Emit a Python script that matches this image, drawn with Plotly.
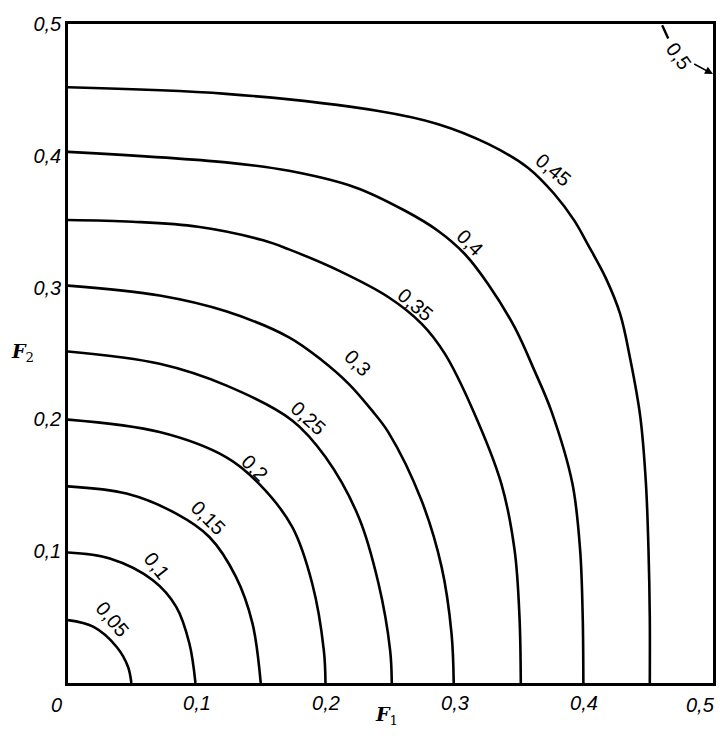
import plotly.graph_objects as go

# contour levels (curve labels)
levels = ["0,05", "0,1", "0,15", "0,2", "0,25", "0,3", "0,35", "0,4", "0,45"]

# curves: F1 (x) and F2 (y) for each level
f1_005 = [0, 0.0195, 0.0376, 0.0465, 0.0491]
f2_005 = [0.0477, 0.0427, 0.0275, 0.0123, 0]

f1_010 = [0, 0.0324, 0.0658, 0.0839, 0.0941, 0.0988]
f2_010 = [0.099, 0.0945, 0.078, 0.0578, 0.030, 0]

f1_015 = [0, 0.0453, 0.0839, 0.1096, 0.1302, 0.143, 0.1494]
f2_015 = [0.1492, 0.1437, 0.1285, 0.1108, 0.0805, 0.0452, 0]

f1_020 = [0, 0.071, 0.1225, 0.148, 0.1738, 0.1893, 0.1983, 0.1996]
f2_020 = [0.1998, 0.1904, 0.1714, 0.1513, 0.1184, 0.0755, 0.025, 0]

f1_025 = [0, 0.071, 0.1225, 0.1738, 0.1996, 0.2253, 0.2407, 0.2497, 0.251]
f2_025 = [0.2515, 0.2422, 0.2258, 0.1992, 0.1714, 0.126, 0.0755, 0.025, 0]

f1_030 = [0, 0.071, 0.1225, 0.1713, 0.197, 0.2176, 0.2356, 0.2485, 0.274, 0.2896, 0.2973, 0.299]
f2_030 = [0.3015, 0.294, 0.282, 0.2623, 0.2447, 0.227, 0.2068, 0.190, 0.1386, 0.0881, 0.0376, 0]

f1_035 = [0, 0.05, 0.1008, 0.1513, 0.1713, 0.2099, 0.2485, 0.2742, 0.2922, 0.314, 0.3359, 0.3462, 0.350, 0.351]
f2_035 = [0.3513, 0.350, 0.3462, 0.3359, 0.329, 0.3129, 0.2927, 0.2725, 0.2497, 0.2068, 0.1513, 0.1008, 0.05, 0]

f1_040 = [0, 0.1225, 0.1713, 0.2228, 0.2613, 0.287, 0.3076, 0.3256, 0.3462, 0.3616, 0.3745, 0.391, 0.397, 0.399, 0.3995]
f2_040 = [0.403, 0.395, 0.3886, 0.376, 0.3583, 0.343, 0.3255, 0.3028, 0.270, 0.237, 0.2068, 0.1513, 0.1008, 0.05, 0]

f1_045 = [0, 0.1225, 0.2407, 0.287, 0.3256, 0.3565, 0.377, 0.3925, 0.4028, 0.417, 0.428, 0.436, 0.4437, 0.448, 0.450, 0.451, 0.451]
f2_045 = [0.452, 0.447, 0.434, 0.424, 0.409, 0.391, 0.371, 0.3508, 0.333, 0.307, 0.280, 0.245, 0.2015, 0.1515, 0.1008, 0.05, 0]

curves_x = [f1_005, f1_010, f1_015, f1_020, f1_025, f1_030, f1_035, f1_040, f1_045]
curves_y = [f2_005, f2_010, f2_015, f2_020, f2_025, f2_030, f2_035, f2_040, f2_045]

# label positions and angles along the curves
label_x = [0.0344, 0.0691, 0.109, 0.145, 0.1862, 0.2248, 0.2697, 0.312, 0.3765]
label_y = [0.0485, 0.0889, 0.1255, 0.1634, 0.2012, 0.243, 0.287, 0.3338, 0.3893]
label_angle = [50, 52, 45, 45, 42, 45, 40, 45, 40]

x_ticks = [0.1, 0.2, 0.3, 0.4]
x_tick_text = ["0,1", "0,2", "0,3", "0,4"]
y_ticks = [0.1, 0.2, 0.3, 0.4, 0.5]
y_tick_text = ["0,1", "0,2", "0,3", "0,4", "0,5"]

label_font = dict(family="Liberation Sans Narrow, Liberation Sans", size=20, color="black")
tick_font = dict(family="Liberation Sans", size=20, color="black")
title_font = dict(family="DejaVu Serif", size=19, color="black")

fig = go.Figure()
for xs, ys in zip(curves_x, curves_y):
    fig.add_trace(go.Scatter(x=xs, y=ys, mode="lines",
                             line=dict(color="black", width=2.6, shape="spline", smoothing=1),
                             hoverinfo="skip", showlegend=False))

for t, x, y, a in zip(levels, label_x, label_y, label_angle):
    fig.add_annotation(x=x, y=y, text=t, showarrow=False, textangle=a, font=label_font)

# 0,5 level = the frame itself, marked with a leader and an arrow
fig.add_annotation(x=0.5, y=0.462, ax=0.4735, ay=0.4758, axref="x", ayref="y",
                   text="0,5", textangle=55, showarrow=True, arrowhead=2,
                   arrowsize=1, arrowwidth=1.6, arrowcolor="black", standoff=0,
                   font=label_font)
fig.add_shape(type="line", x0=0.4606, y0=0.499, x1=0.4653, y1=0.489,
              line=dict(color="black", width=2.4))

# corner labels on the F1 axis (0 sits left of the corner, 0,5 is kept inside the page)
fig.add_annotation(x=-0.018, y=-0.0334, xref="paper", yref="paper", showarrow=False,
                   xanchor="center", yanchor="middle", text="<i>0</i>", font=tick_font)
fig.add_annotation(x=1.006, y=-0.0334, xref="paper", yref="paper", showarrow=False,
                   xanchor="right", yanchor="middle", text="<i>0,5</i>", font=tick_font)

# axis titles
fig.add_annotation(x=-0.071, y=0.5016, xref="paper", yref="paper", showarrow=False,
                   xanchor="center", yanchor="middle",
                   text="<b><i>F</i></b><sub>2</sub>", font=title_font)
fig.add_annotation(x=0.494, y=-0.049, xref="paper", yref="paper", showarrow=False,
                   xanchor="center", yanchor="middle",
                   text="<b><i>F</i></b><sub>1</sub>", font=title_font)

axis_common = dict(range=[0, 0.5], showgrid=False, zeroline=False, showline=True,
                   linecolor="black", linewidth=2.6, mirror=True, ticks="",
                   tickfont=tick_font)

fig.update_xaxes(tickvals=x_ticks, ticktext=["<i>%s</i>" % t for t in x_tick_text], **axis_common)
fig.update_yaxes(tickvals=y_ticks, ticktext=["<i>%s</i>" % t for t in y_tick_text], **axis_common)

# the page keeps its 8px body margin, so the figure is 16px smaller than the window
fig.update_layout(width=712, height=723, margin=dict(l=60, r=4, t=16, b=48),
                  plot_bgcolor="white", paper_bgcolor="white")

fig.write_html("out.html", config={"displayModeBar": False})
